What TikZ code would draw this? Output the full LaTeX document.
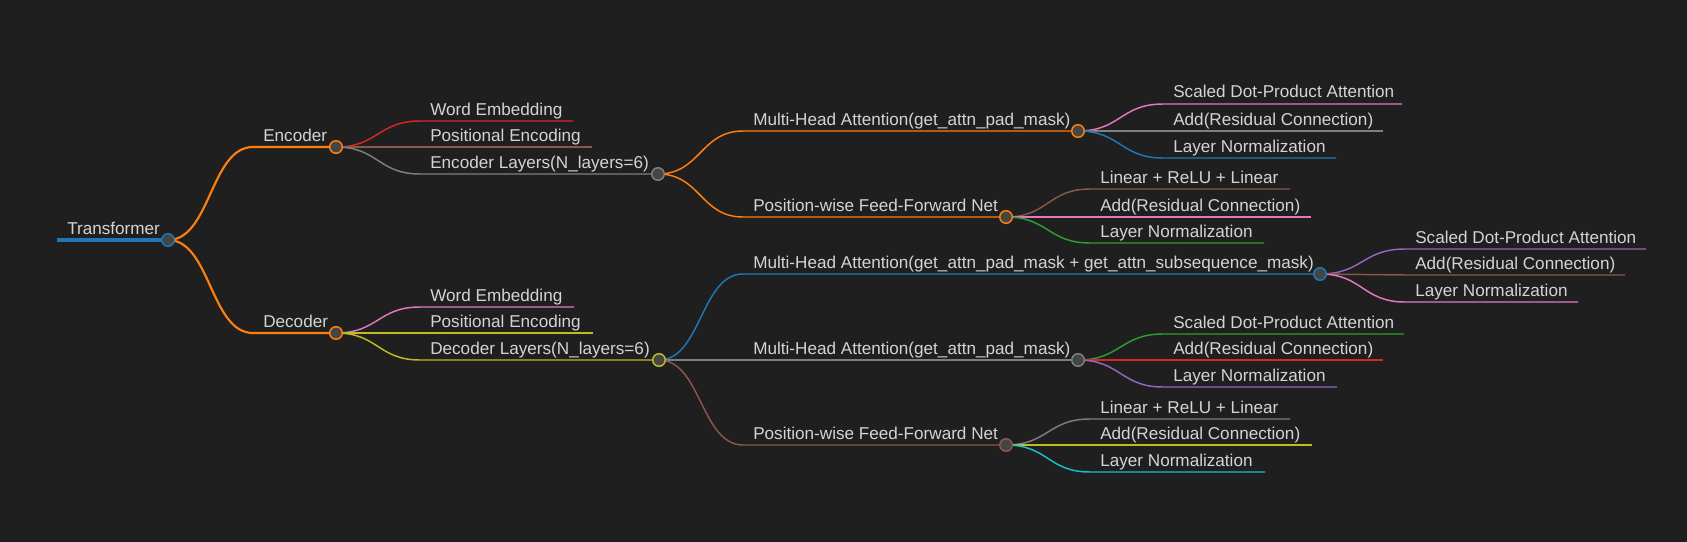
\documentclass[tikz,border=0pt]{standalone}
\usepackage{fontspec}
\setmainfont{Liberation Sans}
\usetikzlibrary{calc,backgrounds}
\definecolor{bg}{HTML}{1F1F1F}
\definecolor{txt}{HTML}{D4D4D4}
\definecolor{dotfill}{HTML}{454545}
\definecolor{cblue}{HTML}{1F77B4}
\definecolor{corange}{HTML}{FF7F0E}
\definecolor{cgreen}{HTML}{2CA02C}
\definecolor{cred}{HTML}{D62728}
\definecolor{cpurple}{HTML}{9467BD}
\definecolor{cbrown}{HTML}{8C564B}
\definecolor{cpink}{HTML}{E377C2}
\definecolor{cgray}{HTML}{7F7F7F}
\definecolor{colive}{HTML}{BCBD22}
\definecolor{ccyan}{HTML}{17BECF}
\tikzset{
  dot/.style={circle, draw=#1, fill=dotfill, line width=1.1pt, minimum size=9.4pt, inner sep=0pt},
  lbl/.style={anchor=base west, text=txt, font=\fontsize{12.85}{15}\selectfont, inner sep=0pt},
  link/.style={to path={let \p1=(\tikztostart), \p2=(\tikztotarget) in
      .. controls ({(\x1+\x2)/2},\y1) and ({(\x1+\x2)/2},\y2) .. (\tikztotarget)}},
  w0/.style={line width=3pt},
  w1/.style={line width=1.6pt},
  w2/.style={line width=1.1pt},
}
\begin{document}
\begin{tikzpicture}[x=0.75pt,y=-0.75pt]
\useasboundingbox (0,0) rectangle (1687,542);
% ---------- root
\coordinate (rootS) at (57,240);
\node[lbl] (rootT) at (67,234) {Transformer};
\node[dot=cblue] (root) at (168,240) {};
% ---------- level 1
\coordinate (encS) at (253,147);
\node[lbl] (encT) at (263,141) {Encoder};
\node[dot=corange] (enc) at (336,147) {};
\coordinate (decS) at (253,333);
\node[lbl] (decT) at (263,327) {Decoder};
\node[dot=corange] (dec) at (336,333) {};
% ---------- encoder children
\coordinate (eweS) at (420,121); \coordinate (eweE) at (573,121);
\node[lbl] (eweT) at (430,115) {Word Embedding};
\coordinate (epeS) at (420,147); \coordinate (epeE) at (592,147);
\node[lbl] (epeT) at (430,141) {Positional Encoding};
\coordinate (eelS) at (420,174);
\node[lbl] (eelT) at (430,168) {Encoder Layers(N\_layers=6)};
\node[dot=cgray] (eel) at (658,174) {};
% encoder layers children
\coordinate (emhaS) at (743,131);
\node[lbl] (emhaT) at (753,125) {Multi-Head Attention(get\_attn\_pad\_mask)};
\node[dot=corange] (emha) at (1078,131) {};
\coordinate (effnS) at (743,217);
\node[lbl] (effnT) at (753,211) {Position-wise Feed-Forward Net};
\node[dot=corange] (effn) at (1006,217) {};
% enc mha children
\coordinate (e1aS) at (1163,104); \coordinate (e1aE) at (1402,104);
\node[lbl] (e1aT) at (1173,98) {Scaled Dot-Product Attention};
\coordinate (e1bS) at (1163,131); \coordinate (e1bE) at (1383,131);
\node[lbl] (e1bT) at (1173,125) {Add(Residual Connection)};
\coordinate (e1cS) at (1163,158); \coordinate (e1cE) at (1336,158);
\node[lbl] (e1cT) at (1173,152) {Layer Normalization};
% enc ffn children
\coordinate (e2aS) at (1090,189); \coordinate (e2aE) at (1290,189);
\node[lbl] (e2aT) at (1100,183) {Linear + ReLU + Linear};
\coordinate (e2bS) at (1090,217); \coordinate (e2bE) at (1311,217);
\node[lbl] (e2bT) at (1100,211) {Add(Residual Connection)};
\coordinate (e2cS) at (1090,243); \coordinate (e2cE) at (1264,243);
\node[lbl] (e2cT) at (1100,237) {Layer Normalization};
% ---------- decoder children
\coordinate (dweS) at (420,307); \coordinate (dweE) at (574,307);
\node[lbl] (dweT) at (430,301) {Word Embedding};
\coordinate (dpeS) at (420,333); \coordinate (dpeE) at (593,333);
\node[lbl] (dpeT) at (430,327) {Positional Encoding};
\coordinate (ddlS) at (420,360);
\node[lbl] (ddlT) at (430,354) {Decoder Layers(N\_layers=6)};
\node[dot=colive] (ddl) at (659,360) {};
% decoder layers children
\coordinate (dm1S) at (743,274);
\node[lbl] (dm1T) at (753,268) {Multi-Head Attention(get\_attn\_pad\_mask + get\_attn\_subsequence\_mask)};
\node[dot=cblue] (dm1) at (1320,274) {};
\coordinate (dm2S) at (743,360);
\node[lbl] (dm2T) at (753,354) {Multi-Head Attention(get\_attn\_pad\_mask)};
\node[dot=cgray] (dm2) at (1078,360) {};
\coordinate (dffS) at (743,445);
\node[lbl] (dffT) at (753,439) {Position-wise Feed-Forward Net};
\node[dot=cbrown] (dff) at (1006,445) {};
% dm1 children
\coordinate (d1aS) at (1405,249); \coordinate (d1aE) at (1646,249);
\node[lbl] (d1aT) at (1415,243) {Scaled Dot-Product Attention};
\coordinate (d1bS) at (1405,275); \coordinate (d1bE) at (1625,275);
\node[lbl] (d1bT) at (1415,269) {Add(Residual Connection)};
\coordinate (d1cS) at (1405,302); \coordinate (d1cE) at (1578,302);
\node[lbl] (d1cT) at (1415,296) {Layer Normalization};
% dm2 children
\coordinate (d2aS) at (1163,334); \coordinate (d2aE) at (1404,334);
\node[lbl] (d2aT) at (1173,328) {Scaled Dot-Product Attention};
\coordinate (d2bS) at (1163,360); \coordinate (d2bE) at (1383,360);
\node[lbl] (d2bT) at (1173,354) {Add(Residual Connection)};
\coordinate (d2cS) at (1163,387); \coordinate (d2cE) at (1337,387);
\node[lbl] (d2cT) at (1173,381) {Layer Normalization};
% dff children
\coordinate (d3aS) at (1090,419); \coordinate (d3aE) at (1290,419);
\node[lbl] (d3aT) at (1100,413) {Linear + ReLU + Linear};
\coordinate (d3bS) at (1090,445); \coordinate (d3bE) at (1312,445);
\node[lbl] (d3bT) at (1100,439) {Add(Residual Connection)};
\coordinate (d3cS) at (1090,472); \coordinate (d3cE) at (1265,472);
\node[lbl] (d3cT) at (1100,466) {Layer Normalization};

\begin{pgfonlayer}{background}
\fill[bg] (0,0) rectangle (1687,542);
\draw[cblue,w0] (rootS) -- (root.center);
\draw[corange,w1] (root.center) to[link] (encS) -- (enc.center);
\draw[corange,w1] (root.center) to[link] (decS) -- (dec.center);
% encoder
\draw[cred,w2] (enc.center) to[link] (eweS) -- (eweE);
\draw[cbrown,w2] (enc.center) to[link] (epeS) -- (epeE);
\draw[cgray,w2] (enc.center) to[link] (eelS) -- (eel.center);
\draw[corange,w2] (eel.center) to[link] (emhaS) -- (emha.center);
\draw[corange,w2] (eel.center) to[link] (effnS) -- (effn.center);
\draw[cpink,w2] (emha.center) to[link] (e1aS) -- (e1aE);
\draw[cgray,w2] (emha.center) to[link] (e1bS) -- (e1bE);
\draw[cblue,w2] (emha.center) to[link] (e1cS) -- (e1cE);
\draw[cbrown,w2] (effn.center) to[link] (e2aS) -- (e2aE);
\draw[cpink,w2] (effn.center) to[link] (e2bS) -- (e2bE);
\draw[cgreen,w2] (effn.center) to[link] (e2cS) -- (e2cE);
% decoder
\draw[cpink,w2] (dec.center) to[link] (dweS) -- (dweE);
\draw[colive,w2] (dec.center) to[link] (dpeS) -- (dpeE);
\draw[colive,w2] (dec.center) to[link] (ddlS) -- (ddl.center);
\draw[cblue,w2] (ddl.center) to[link] (dm1S) -- (dm1.center);
\draw[cgray,w2] (ddl.center) to[link] (dm2S) -- (dm2.center);
\draw[cbrown,w2] (ddl.center) to[link] (dffS) -- (dff.center);
\draw[cpurple,w2] (dm1.center) to[link] (d1aS) -- (d1aE);
\draw[cbrown,w2] (dm1.center) to[link] (d1bS) -- (d1bE);
\draw[cpink,w2] (dm1.center) to[link] (d1cS) -- (d1cE);
\draw[cgreen,w2] (dm2.center) to[link] (d2aS) -- (d2aE);
\draw[cred,w2] (dm2.center) to[link] (d2bS) -- (d2bE);
\draw[cpurple,w2] (dm2.center) to[link] (d2cS) -- (d2cE);
\draw[cgray,w2] (dff.center) to[link] (d3aS) -- (d3aE);
\draw[colive,w2] (dff.center) to[link] (d3bS) -- (d3bE);
\draw[ccyan,w2] (dff.center) to[link] (d3cS) -- (d3cE);
\end{pgfonlayer}
\end{tikzpicture}
\end{document}
